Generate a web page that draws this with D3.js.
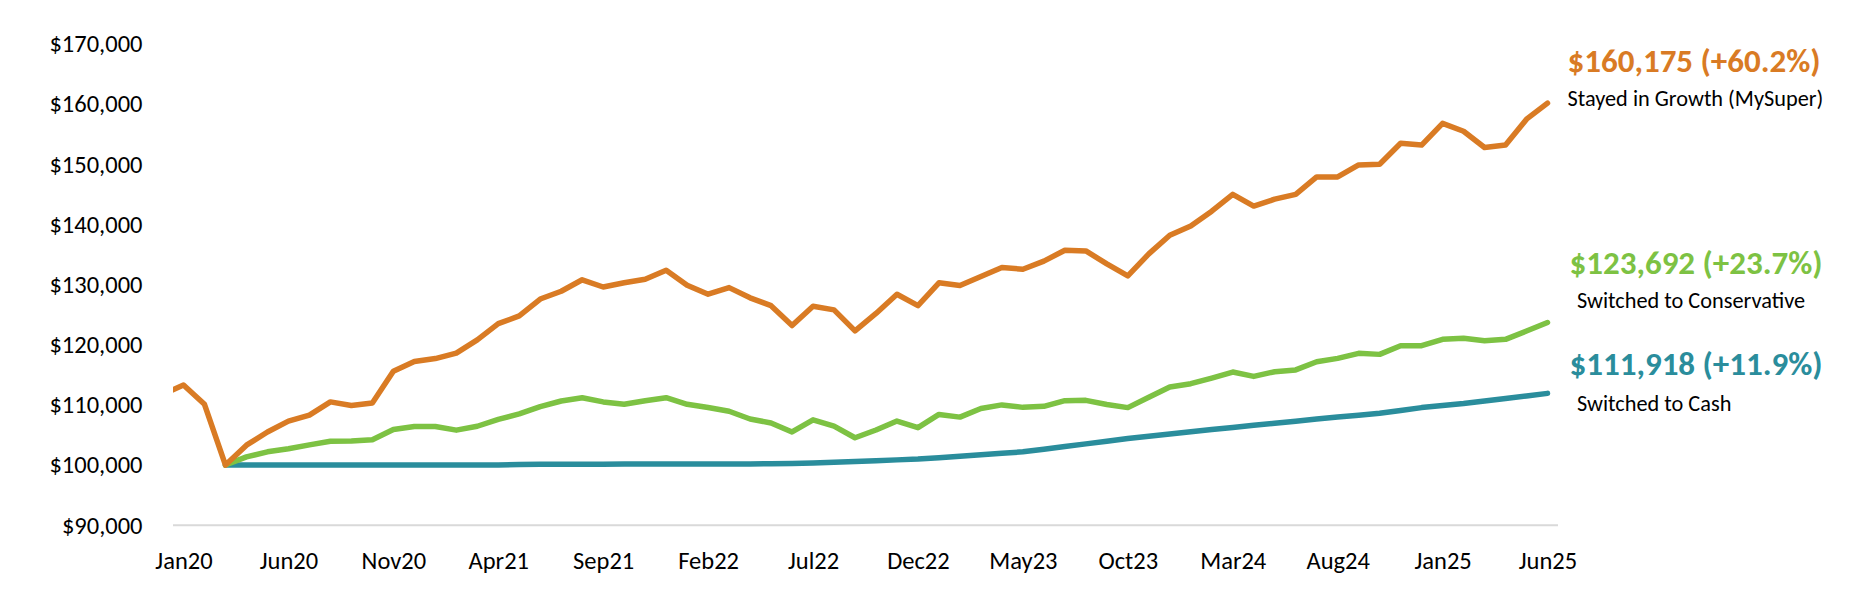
<!DOCTYPE html>
<html>
<head>
<meta charset="utf-8">
<script src="https://cdn.jsdelivr.net/npm/d3@7"></script>
<style>
  html, body { margin: 0; padding: 0; background: #ffffff; }
  svg { display: block; }
</style>
</head>
<body>
<svg id="chart" width="1864" height="611"></svg>
<script>
// ---------------- DATA ----------------
const months = [
  "Dec19",
  "Jan20","Feb20","Mar20","Apr20","May20","Jun20","Jul20","Aug20","Sep20","Oct20","Nov20","Dec20",
  "Jan21","Feb21","Mar21","Apr21","May21","Jun21","Jul21","Aug21","Sep21","Oct21","Nov21","Dec21",
  "Jan22","Feb22","Mar22","Apr22","May22","Jun22","Jul22","Aug22","Sep22","Oct22","Nov22","Dec22",
  "Jan23","Feb23","Mar23","Apr23","May23","Jun23","Jul23","Aug23","Sep23","Oct23","Nov23","Dec23",
  "Jan24","Feb24","Mar24","Apr24","May24","Jun24","Jul24","Aug24","Sep24","Oct24","Nov24","Dec24",
  "Jan25","Feb25","Mar25","Apr25","May25","Jun25"
];

const tickLabels = ["Jan20","Jun20","Nov20","Apr21","Sep21","Feb22","Jul22","Dec22",
                    "May23","Oct23","Mar24","Aug24","Jan25","Jun25"];

const yTicks = [90000,100000,110000,120000,130000,140000,150000,160000,170000];

// Stayed in Growth (MySuper) — Dec19 .. Jun25
const growth = [
  111750,
  113300,110100,100000,103300,105500,107300,108300,110500,109900,110300,115600,117200,
  117700,118600,120800,123500,124800,127600,128900,130800,129600,130300,130900,132400,
  129900,128400,129500,127800,126500,123200,126400,125800,122300,125200,128400,126500,
  130300,129850,131350,132850,132550,133900,135700,135600,133450,131450,135100,138200,
  139750,142200,145000,143050,144200,145000,147900,147900,149900,150000,153500,153200,
  156800,155500,152800,153200,157500,160175
];

// Switched to Conservative — starts Mar20
const conservative = [
  null,
  null,null,100000,101350,102200,102700,103350,103950,104000,104200,105900,106400,
  106400,105800,106450,107600,108500,109700,110650,111200,110500,110100,110700,111200,
  110100,109560,108940,107650,107000,105510,107520,106480,104540,105830,107320,106220,
  108420,107970,109400,110000,109590,109760,110700,110760,110070,109550,111260,112990,
  113530,114460,115460,114740,115520,115820,117180,117740,118570,118400,119840,119840,
  120900,121070,120670,120900,122280,123692
];

// Switched to Cash — starts Mar20
const cash = [
  null,
  null,null,100000,100000,100000,100000,100000,100000,100000,100000,100000,100000,
  100000,100000,100000,100000,100100,100130,100150,100150,100150,100160,100160,100170,
  100170,100180,100180,100190,100200,100250,100350,100470,100600,100720,100860,101000,
  101220,101450,101700,101950,102200,102640,103080,103520,103960,104400,104780,105150,
  105530,105900,106250,106600,106950,107300,107640,107980,108290,108600,109070,109550,
  109890,110230,110650,111070,111490,111918
];

const seriesNames = ["Stayed in Growth (MySuper)","Switched to Conservative","Switched to Cash"];
const seriesHeadlines = ["$160,175 (+60.2%)","$123,692 (+23.7%)","$111,918 (+11.9%)"];
const seriesColors = ["#D97B24","#7DC243","#2A8D9C"];

// ---------------- LAYOUT ----------------
const svg = d3.select("#chart");
const plot = { left: 173, right: 1558, top: 44, bottom: 525.2 };
const FONT = "Carlito, Calibri, Lato, 'Open Sans', sans-serif";

const x = d3.scaleLinear()
  .domain([0.5, months.length - 0.5])
  .range([plot.left, plot.right]);

const y = d3.scaleLinear()
  .domain([90000, 170000])
  .range([plot.bottom, plot.top]);

svg.append("defs").append("clipPath").attr("id", "plotClip")
  .append("rect")
  .attr("x", plot.left).attr("y", 0)
  .attr("width", plot.right - plot.left).attr("height", 611);

// baseline gridline
svg.append("line")
  .attr("x1", plot.left).attr("x2", plot.right)
  .attr("y1", y(90000)).attr("y2", y(90000))
  .attr("stroke", "#D9D9D9").attr("stroke-width", 2);

// Y axis
const yAxis = svg.append("g")
  .attr("transform", `translate(${plot.left},0)`)
  .call(d3.axisLeft(y).tickValues(yTicks).tickFormat(d3.format("$,")).tickSize(0).tickPadding(30.5));
yAxis.select(".domain").remove();
yAxis.selectAll("text")
  .attr("fill", "#000")
  .style("font-family", FONT)
  .style("font-size", "24.5px");

// X axis
const xAxis = svg.append("g")
  .attr("transform", `translate(0,${plot.bottom})`)
  .call(d3.axisBottom(x)
    .tickValues(tickLabels.map(t => months.indexOf(t)))
    .tickFormat(i => months[i])
    .tickSize(0).tickPadding(26));
xAxis.select(".domain").remove();
xAxis.selectAll("text")
  .attr("fill", "#000")
  .style("font-family", FONT)
  .style("font-size", "24.5px");

// Lines
const line = d3.line()
  .defined(d => d != null)
  .x((d, i) => x(i))
  .y(d => y(d));

const allSeries = [growth, conservative, cash];
const gLines = svg.append("g").attr("clip-path", "url(#plotClip)");
[2, 1, 0].forEach(k => {
  gLines.append("path")
    .datum(allSeries[k])
    .attr("d", line)
    .attr("fill", "none")
    .attr("stroke", seriesColors[k])
    .attr("stroke-width", 5.5)
    .attr("stroke-linejoin", "round")
    .attr("stroke-linecap", "round");
});

// Annotations
const last = months.length - 1;
const annot = [
  { k: 0, dx: 20, headY: 71.5, subY: 106, subDx: 20 },
  { k: 1, dx: 22, headY: 274.3, subY: 307.7, subDx: 29.5 },
  { k: 2, dx: 22, headY: 375, subY: 411, subDx: 29.5 }
];
annot.forEach(a => {
  svg.append("text")
    .attr("x", x(last) + a.dx)
    .attr("y", a.headY)
    .attr("fill", seriesColors[a.k])
    .style("font-family", FONT)
    .style("font-weight", "bold")
    .style("font-size", "33px")
    .text(seriesHeadlines[a.k]);
  svg.append("text")
    .attr("x", x(last) + a.subDx)
    .attr("y", a.subY)
    .attr("fill", "#000")
    .style("font-family", FONT)
    .style("font-size", "22.3px")
    .text(seriesNames[a.k]);
});
</script>
</body>
</html>
